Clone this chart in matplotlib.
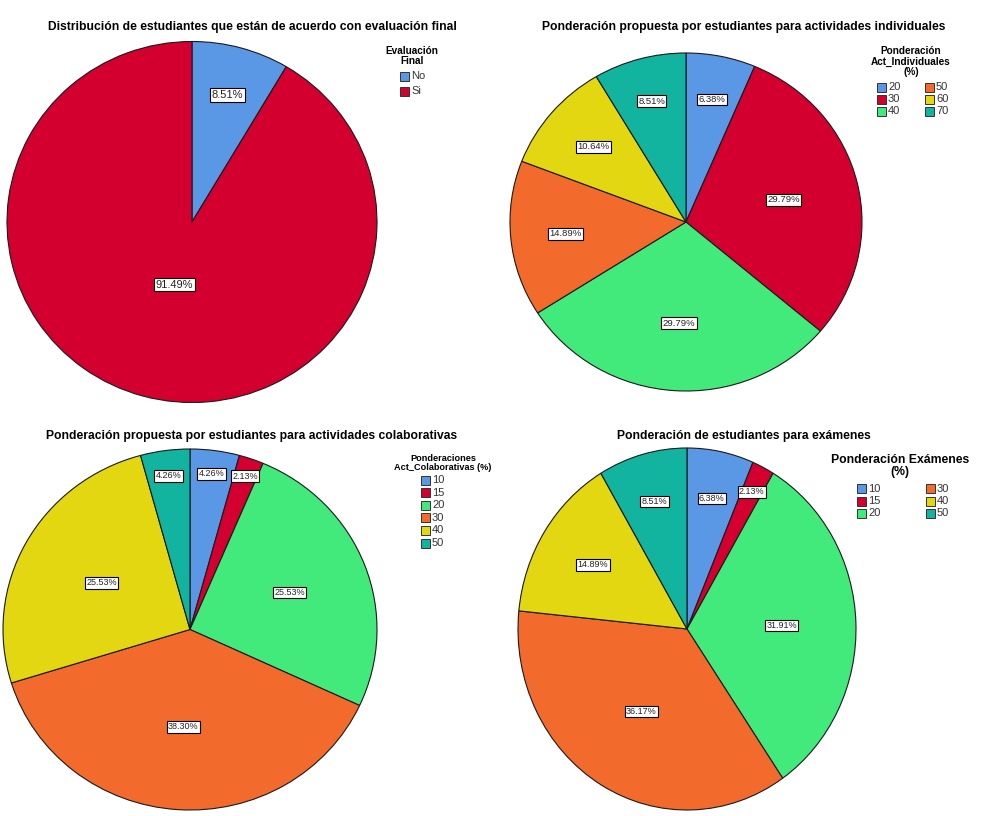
import numpy as np
import matplotlib
matplotlib.use("Agg")
import matplotlib.pyplot as plt
from matplotlib.patches import Rectangle

plt.rcParams['font.family'] = ['Liberation Sans', 'DejaVu Sans']

# ---------------- data ----------------
eval_cats = ['No', 'Si']
eval_vals = [8.51, 91.49]

indiv_cats = ['20', '30', '40', '50', '60', '70']
indiv_vals = [6.38, 29.79, 29.79, 14.89, 10.64, 8.51]

colab_cats = ['10', '15', '20', '30', '40', '50']
colab_vals = [4.26, 2.13, 25.53, 38.30, 25.53, 4.26]

exam_cats = ['10', '15', '20', '30', '40', '50']
exam_vals = [6.38, 2.13, 31.91, 36.17, 14.89, 8.51]

titles = [
    'Distribución de estudiantes que están de acuerdo con evaluación final',
    'Ponderación propuesta por estudiantes para actividades individuales',
    'Ponderación propuesta por estudiantes para actividades colaborativas',
    'Ponderación de estudiantes para exámenes',
]
legend_titles = [
    'Evaluación\nFinal',
    'Ponderación\nAct_Individuales\n(%)',
    'Ponderaciones\nAct_Colaborativas (%)',
    'Ponderación Exámenes\n(%)',
]

# ---------------- style ----------------
W, H = 983, 816
six_colors = ['#5A97E4', '#D3002F', '#42EA7C', '#F26A2C', '#E2D710', '#12B4A0']
eval_colors = ['#5A97E4', '#D3002F']

fig = plt.figure(figsize=(W / 100, H / 100), dpi=100)
fig.patch.set_facecolor('white')


def fx(x):
    return x / W


def fy(y):
    return 1 - y / H


def draw_pie(cx, cy, rx, ry, vals, colors, label_r, lsize):
    ax = fig.add_axes([(cx - rx) / W, 1 - (cy + ry) / H, 2 * rx / W, 2 * ry / H])
    wedges, _ = ax.pie(vals, colors=colors, startangle=90, counterclock=False,
                       radius=1, wedgeprops=dict(edgecolor='#1a1a1a', linewidth=0.8))
    ax.set_aspect('auto')
    ax.set_xlim(-1, 1)
    ax.set_ylim(-1, 1)
    ax.axis('off')
    for w, v, r in zip(wedges, vals, label_r):
        ang = np.deg2rad((w.theta1 + w.theta2) / 2)
        ax.text(r * np.cos(ang), r * np.sin(ang), f'{v:.2f}%', ha='center', va='center',
                fontsize=lsize, color='#222222',
                bbox=dict(boxstyle='square,pad=0.15', facecolor='white',
                          edgecolor='black', linewidth=0.8))
    return ax


draw_pie(192, 222, 185, 180.5, eval_vals, eval_colors, [0.73, 0.36], 8)
draw_pie(686, 222, 176, 169, indiv_vals, six_colors, [0.74, 0.57, 0.60, 0.69, 0.69, 0.74], 6.8)
draw_pie(190, 629.5, 187, 180.5, colab_vals, six_colors, [0.87, 0.90, 0.57, 0.54, 0.54, 0.86], 6.5)
draw_pie(687, 629, 169, 181, exam_vals, six_colors, [0.735, 0.85, 0.56, 0.53, 0.66, 0.73], 6.5)

# titles
for (x, y), t in zip([(252, 27), (744, 27), (252, 436), (744, 436)], titles):
    fig.text(fx(x), fy(y), t, ha='center', va='center', fontsize=8.7, fontweight='bold')


def legend(title, tx, ty, tsize, cats, colors, cols, row_h, first_y, esize):
    fig.text(fx(tx), fy(ty), title, ha='center', va='top', fontsize=tsize,
             fontweight='bold', linespacing=1.05)
    nrows = int(np.ceil(len(cats) / len(cols)))
    for i, (c, col) in enumerate(zip(cats, colors)):
        ci, ri = divmod(i, nrows)
        x0 = cols[ci]
        yc = first_y + ri * row_h
        fig.add_artist(Rectangle((fx(x0), fy(yc + 4.5)), 9 / W, 9 / H,
                                 transform=fig.transFigure, facecolor=col,
                                 edgecolor='#333333', linewidth=0.7))
        fig.text(fx(x0 + 11), fy(yc), c, ha='left', va='center', fontsize=esize,
                 color='#333333')


legend(legend_titles[0], 412, 46, 7.2, eval_cats, eval_colors, [400], 15, 76, 8)
legend(legend_titles[1], 911, 46, 7.2, indiv_cats, six_colors, [877, 925], 12, 87, 8)
legend(legend_titles[2], 443, 454, 6.6, colab_cats, six_colors, [421], 12.6, 480, 8)
legend(legend_titles[3], 900, 454, 8.8, exam_cats, six_colors, [857, 926], 12.2, 489, 8)

fig.savefig('out.png', dpi=100, facecolor='white')
